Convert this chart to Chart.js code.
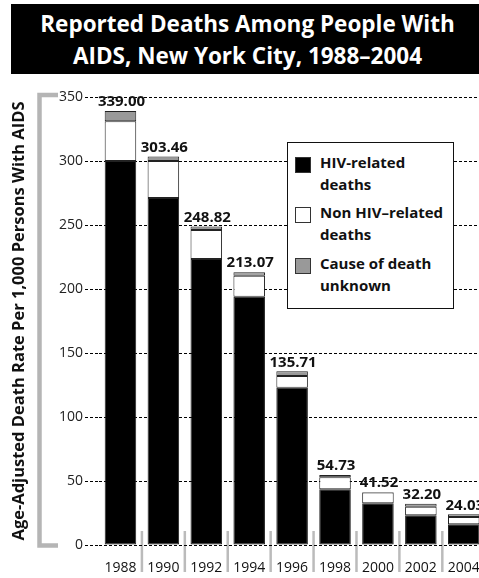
<!DOCTYPE html>
<html>
<head>
<meta charset="utf-8">
<script src="https://cdn.jsdelivr.net/npm/chart.js@4/dist/chart.umd.min.js"></script>
<style>
    html, body { margin: 0; padding: 0; background: #fff; overflow: hidden; width: 479px; height: 578px; }
    #wrap { position: relative; width: 479px; height: 578px; overflow: hidden; }
    #chart { position: absolute; left: 0; top: 0; }
    #title {
        position: absolute; left: 11px; top: 4px; width: 473px; height: 70px;
        background: #000; color: #fff; text-align: center;
        font: bold 22.5px "Open Sans", sans-serif; line-height: 32px;
        padding-top: 4px; box-sizing: border-box;
    }
    #legend {
        position: absolute; left: 287px; top: 142px; width: 167px; height: 167px;
        background: #fff; border: 1.5px solid #111; box-sizing: border-box;
        font: bold 15px "Open Sans", sans-serif; color: #111;
    }
    #legend .item { position: absolute; left: 32px; line-height: 22px; }
    #legend .mark { position: absolute; left: -25px; top: 6px; width: 16px; height: 16px; box-sizing: border-box; border: 1.5px solid #333; }
</style>
</head>
<body>
<div id="wrap">
    <canvas id="chart" width="495" height="578"></canvas>
    <div id="title">Reported Deaths Among People With<br>AIDS, New York City, 1988–2004</div>
    <div id="legend"></div>
</div>
<script>
    // values (rate per 1,000 persons with AIDS)
    let years = ['1988', '1990', '1992', '1994', '1996', '1998', '2000', '2002', '2004'];
    let hivDeaths = [300, 271, 223.4, 194, 122.9, 43.5, 32.6, 23.2, 16.2];
    let nonHivDeaths = [31, 29, 22.6, 16.4, 9.1, 9.4, 8.4, 6.7, 5.7];
    let unknownCause = [8, 3.5, 2.8, 2.7, 3.7, 1.8, 0.5, 2.3, 2.1];
    let totals = ['339.00', '303.46', '248.82', '213.07', '135.71', '54.73', '41.52', '32.20', '24.03'];
    let yTicks = [0, 50, 100, 150, 200, 250, 300, 350];

    let seriesNames = [['HIV-related', 'deaths'], ['Non HIV–related', 'deaths'], ['Cause of death', 'unknown']];
    let seriesColors = ['#000000', '#ffffff', '#999999'];

    let fontFamily = '"Open Sans", sans-serif';

    // gray bracket beside the y axis + separators between the years
    let decorPlugin = {
        id: 'decor',
        beforeDraw: function (chart) {
            let ctx = chart.ctx, y = chart.scales.y, x = chart.scales.x;
            let top = y.getPixelForValue(yTicks[yTicks.length - 1]), bottom = y.getPixelForValue(0);
            ctx.save();
            ctx.strokeStyle = '#b5b5b5';
            ctx.lineWidth = 4.5;
            ctx.beginPath();
            ctx.moveTo(58, top - 2);
            ctx.lineTo(39.5, top - 2);
            ctx.lineTo(39.5, bottom + 0.5);
            ctx.lineTo(58, bottom + 0.5);
            ctx.stroke();

            ctx.lineWidth = 2.5;
            ctx.strokeStyle = '#bbbbbb';
            for (let i = 0; i < years.length - 1; i++) {
                let px = (x.getPixelForValue(i) + x.getPixelForValue(i + 1)) / 2;
                ctx.beginPath();
                ctx.moveTo(px, bottom - 14);
                ctx.lineTo(px, bottom + 27);
                ctx.stroke();
            }
            ctx.restore();
        },
        afterDatasetsDraw: function (chart) {
            let ctx = chart.ctx;
            let meta = chart.getDatasetMeta(chart.data.datasets.length - 1);
            ctx.save();
            ctx.font = 'bold 15px ' + fontFamily;
            ctx.fillStyle = '#111';
            ctx.textAlign = 'center';
            ctx.textBaseline = 'middle';
            meta.data.forEach(function (bar, i) {
                ctx.fillText(totals[i], bar.x + 1, bar.y - 9);
            });
            ctx.restore();
        }
    };

    let datasets = [hivDeaths, nonHivDeaths, unknownCause].map(function (vals, i) {
        return {
            label: seriesNames[i].join(' '),
            data: vals,
            backgroundColor: seriesColors[i],
            borderColor: '#222',
            borderWidth: 1,
            borderSkipped: false,
            categoryPercentage: 1,
            barPercentage: 0.735
        };
    });

    new Chart(document.getElementById('chart').getContext('2d'), {
        type: 'bar',
        data: { labels: years, datasets: datasets },
        plugins: [decorPlugin],
        options: {
            responsive: false,
            animation: false,
            layout: { padding: { top: 97, right: 4, left: 0, bottom: 0 } },
            plugins: { legend: { display: false }, tooltip: { enabled: false } },
            scales: {
                x: {
                    stacked: true,
                    grid: { display: false, drawTicks: false },
                    border: { display: false },
                    ticks: { color: '#111', font: { family: fontFamily, size: 14 }, padding: 15, maxRotation: 0 },
                    afterFit: function (scale) { scale.height = 33; }
                },
                y: {
                    stacked: true,
                    min: 0,
                    max: 350,
                    afterBuildTicks: function (scale) {
                        scale.ticks = yTicks.map(function (v) { return { value: v }; });
                    },
                    grid: { color: '#000', lineWidth: 1, tickLength: 14, dash: [3, 2], tickBorderDash: [3, 2] },
                    border: { display: false, dash: [3, 2] },
                    ticks: { color: '#222', font: { family: fontFamily, size: 14 }, padding: 2 },
                    title: {
                        display: true,
                        text: 'Age-Adjusted Death Rate Per 1,000 Persons With AIDS',
                        color: '#111',
                        font: { family: fontFamily, size: 16.5, weight: 'bold' },
                        padding: { top: 9, bottom: 0 }
                    },
                    afterFit: function (scale) { scale.width = 99; }
                }
            }
        }
    });

    // legend with wrapped labels
    let legend = document.getElementById('legend');
    seriesNames.forEach(function (lines, i) {
        let item = document.createElement('div');
        item.className = 'item';
        item.style.top = (7.5 + i * 50.5) + 'px';
        item.innerHTML = '<span class="mark" style="background:' + seriesColors[i] + '"></span>' + lines.join('<br>');
        legend.appendChild(item);
    });
</script>
</body>
</html>
